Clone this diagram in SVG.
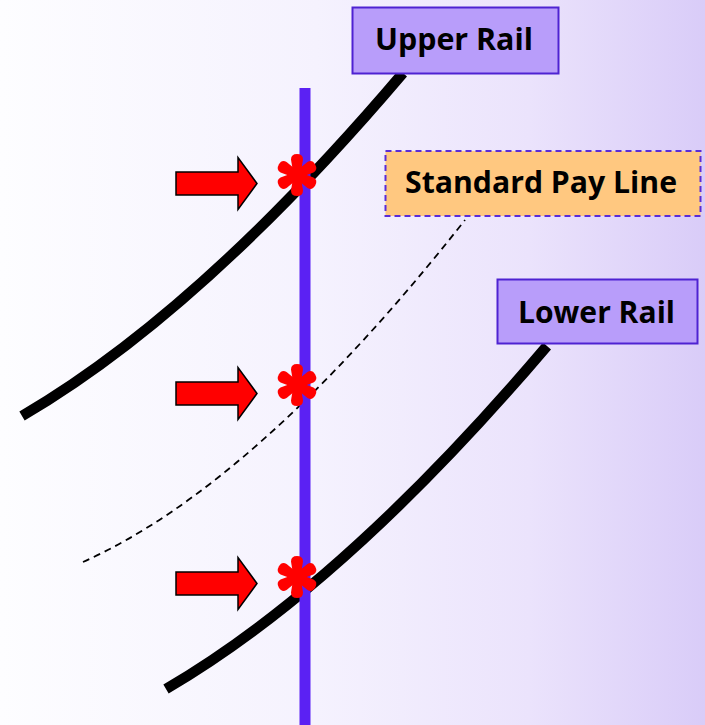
<svg xmlns="http://www.w3.org/2000/svg" width="705" height="725" viewBox="0 0 705 725">
  <defs>
    <linearGradient id="bg" x1="0" y1="0" x2="1" y2="0">
      <stop offset="0" stop-color="#FDFDFF"/>
      <stop offset="0.45" stop-color="#F5F2FE"/>
      <stop offset="0.75" stop-color="#EBE3FC"/>
      <stop offset="1" stop-color="#D9CCF8"/>
    </linearGradient>
    <path id="arm" d="M-3.5,0 L-6,-15.5 Q-6,-21 0,-21 Q6,-21 6,-15.5 L3.5,0 Z" fill="#FF0000"/>
    <g id="star">
      <use href="#arm"/>
      <use href="#arm" transform="rotate(60)"/>
      <use href="#arm" transform="rotate(120)"/>
      <use href="#arm" transform="rotate(180)"/>
      <use href="#arm" transform="rotate(240)"/>
      <use href="#arm" transform="rotate(300)"/>
    </g>
    <path id="arrow" d="M0,-11.5 H62 V-26 L81,0 L62,26 V11.5 H0 Z" fill="#FF0000" stroke="#000" stroke-width="1.5" stroke-linejoin="miter"/>
  </defs>
  <style>
    .rail { fill: none; stroke: #000; stroke-width: 10.5; stroke-linecap: butt; }
    .pay { fill: none; stroke: #000; stroke-width: 1.8; stroke-dasharray: 7 5; }
    .box { fill: #B89DFA; stroke: #4E22D2; stroke-width: 2; }
    .paybox { fill: #FFC880; stroke: #5A2CD6; stroke-width: 2; stroke-dasharray: 6 4; }
    .lbl { font-family: "Open Sans", "Liberation Sans", sans-serif; font-weight: bold; font-size: 30px; fill: #000; }
  </style>
  <rect x="0" y="0" width="705" height="725" fill="url(#bg)"/>

  <g id="connectors">
    <path id="upper-rail-curve" class="rail" d="M22,416 Q200,312 403,73"/>
    <path id="lower-rail-curve" class="rail" d="M166,689 Q344,585 547,346"/>
    <path id="pay-line-curve" class="pay" d="M83,562 Q257,484 465,220"/>
  </g>

  <g id="reel-line">
    <rect x="299.5" y="88" width="11" height="637" fill="#5B21F3"/>
  </g>

  <g id="arrows">
    <use href="#arrow" transform="translate(176,183.5)"/>
    <use href="#arrow" transform="translate(176,393.5)"/>
    <use href="#arrow" transform="translate(176,583.5)"/>
  </g>

  <g id="markers">
    <use href="#star" transform="translate(297,175)"/>
    <use href="#star" transform="translate(297,385)"/>
    <use href="#star" transform="translate(297,577)"/>
  </g>

  <g id="upper-rail">
    <rect class="box" x="352.5" y="7.5" width="206" height="66"/>
    <text class="lbl" x="454" y="50" text-anchor="middle" textLength="158" lengthAdjust="spacingAndGlyphs">Upper Rail</text>
  </g>

  <g id="standard-pay-line">
    <rect class="paybox" x="385.5" y="151" width="315" height="65"/>
    <text class="lbl" x="541" y="193" text-anchor="middle" textLength="272" lengthAdjust="spacingAndGlyphs">Standard Pay Line</text>
  </g>

  <g id="lower-rail">
    <rect class="box" x="497.5" y="279.5" width="200" height="64"/>
    <text class="lbl" x="596.5" y="323" text-anchor="middle" textLength="157" lengthAdjust="spacingAndGlyphs">Lower Rail</text>
  </g>
</svg>
